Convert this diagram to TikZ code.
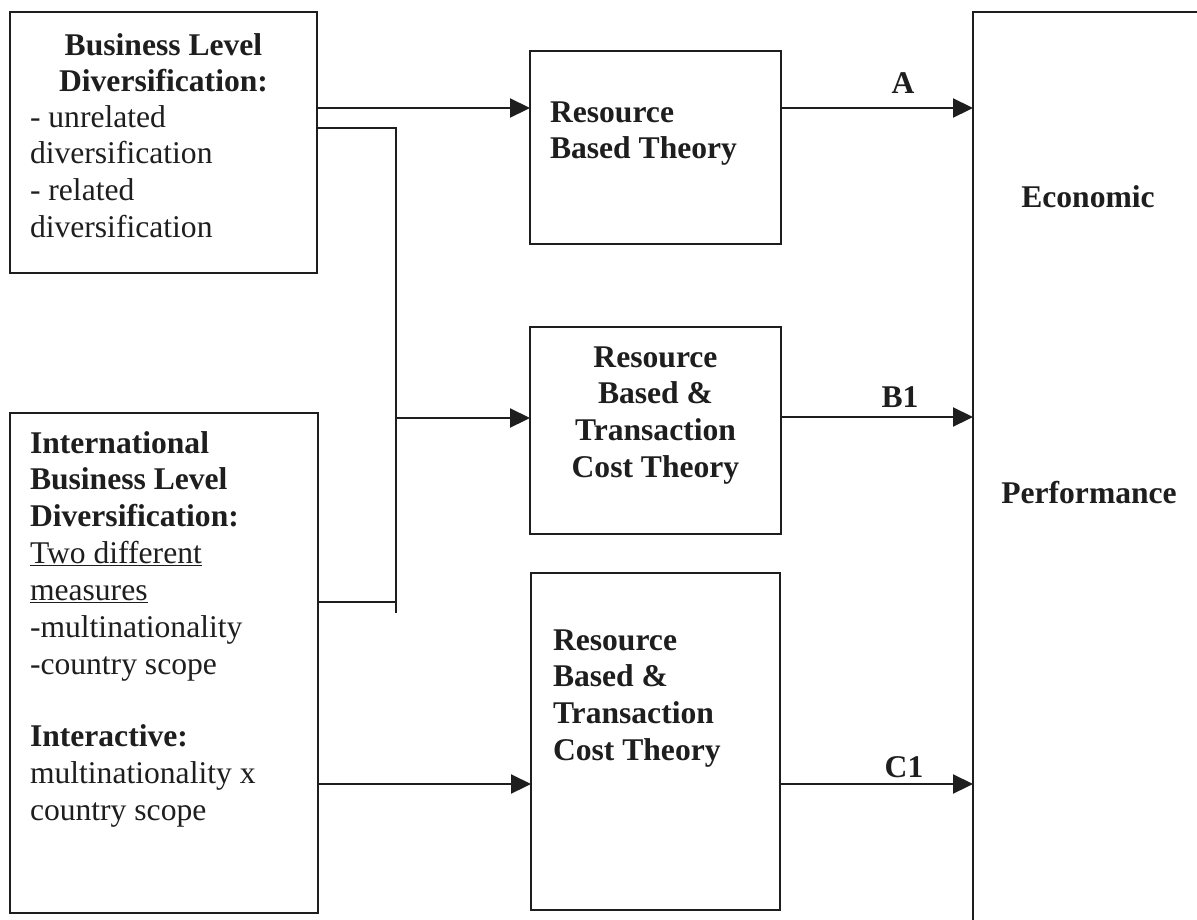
\documentclass[tikz,border=0pt]{standalone}
\usepackage{fontspec}
\setmainfont{Liberation Serif}
\usetikzlibrary{arrows.meta}
\definecolor{ink}{RGB}{30,30,30}
\newcommand\dfont{\fontsize{31.6pt}{36.9pt}\selectfont}
\begin{document}
\begin{tikzpicture}[x=1pt,y=-1pt,
  box/.style={draw=ink, line width=2.2pt, rectangle, inner sep=0pt, outer sep=0pt},
  conn/.style={draw=ink, line width=2.2pt},
  arr/.style={conn, -{Triangle[length=20pt,width=19pt]}},
  txt/.style={inner sep=0pt, outer sep=0pt, text=ink, font=\dfont},
  lbl/.style={txt, font=\dfont\bfseries, anchor=base}]
\useasboundingbox (0,0) rectangle (1197,919);
\fill[white] (0,0) rectangle (1197,919);

% boxes
\node[box, minimum width=307pt, minimum height=261pt] (bld) at (163.5,142.5) {};
\node[box, minimum width=308pt, minimum height=500pt] (ibld) at (164,663) {};
\node[box, minimum width=251pt, minimum height=193pt] (rbt) at (655.5,147.5) {};
\node[box, minimum width=251pt, minimum height=207pt] (rbtc1) at (655.5,430.5) {};
\node[box, minimum width=249pt, minimum height=337pt] (rbtc2) at (655.5,741.5) {};
\begin{scope}
\clip (0,0) rectangle (1197,919);
\node[box, minimum width=257pt, minimum height=933pt] (econ) at (1101.5,478.5) {};
\end{scope}

% texts
\node[txt, anchor=base] (bldhead) at (163.5,55)
  {\parbox[t]{300pt}{\centering\bfseries Business Level\\Diversification:}};
\node[txt, anchor=base west] (bldbody) at (30,127)
  {\parbox[t]{280pt}{\raggedright - unrelated\\diversification\\- related\\diversification}};
\node[txt, anchor=base west] (ibldtext) at (30,453)
  {\parbox[t]{285pt}{\raggedright
   \textbf{International}\\
   \textbf{Business Level}\\
   \textbf{Diversification:}\\
   \underline{Two different}\\
   \underline{measures}\\
   -multinationality\\
   -country scope\\[35pt]
   \textbf{Interactive:}\\
   multinationality x\\
   country scope}};
\node[txt, anchor=base west] (rbttext) at (550,122)
  {\parbox[t]{225pt}{\raggedright\bfseries Resource\\Based Theory}};
\node[txt, anchor=base] (rbtc1text) at (655.5,367)
  {\parbox[t]{245pt}{\centering\bfseries Resource\\Based \&\\Transaction\\Cost Theory}};
\node[txt, anchor=base west] (rbtc2text) at (553,650)
  {\parbox[t]{220pt}{\raggedright\bfseries Resource\\Based \&\\Transaction\\Cost Theory}};
\node[lbl] (econ1) at (1088,207) {Economic};
\node[lbl] (econ2) at (1089,503) {Performance};

% connectors
\coordinate (yA) at (0,108);
\coordinate (yB) at (0,417);
\coordinate (yC) at (0,784);
\coordinate (jtop) at (396,128);
\coordinate (jin) at (396,602);
\coordinate (jbot) at (396,613);
\coordinate (jmid) at (396,418);

\draw[arr] (bld.east |- yA) -- (rbt.west |- yA);
\draw[conn] (bld.east |- jtop) -- (jtop) -- (jbot);
\draw[conn] (ibld.east |- jin) -- (jin);
\draw[arr] (jmid) -- (rbtc1.west |- jmid);
\draw[arr] (ibld.east |- yC) -- (rbtc2.west |- yC);

\draw[arr] (rbt.east |- yA) -- (econ.west |- yA);
\draw[arr] (rbtc1.east |- yB) -- (econ.west |- yB);
\draw[arr] (rbtc2.east |- yC) -- (econ.west |- yC);

\node[lbl] (lA) at (903,93) {A};
\node[lbl] (lB) at (900,407) {B1};
\node[lbl] (lC) at (904,777) {C1};
\end{tikzpicture}
\end{document}
